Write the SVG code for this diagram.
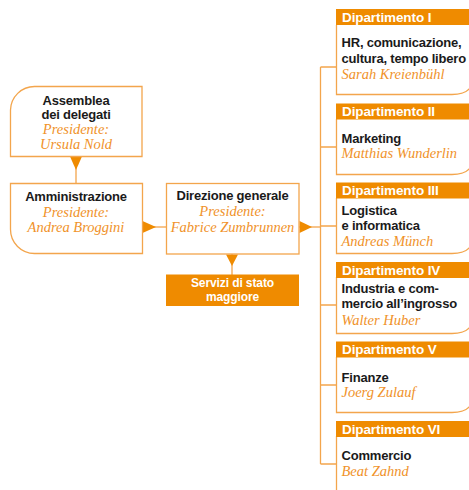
<svg xmlns="http://www.w3.org/2000/svg" width="469" height="490" viewBox="0 0 469 490">
<defs>
<style>
.box{fill:#fff;stroke:#F3A54C;stroke-width:1.3}
.ln{fill:none;stroke:#F3A54C;stroke-width:1.3}
.tri{fill:#EF8B00}
.hd{fill:#EF8B00}
.b{font-family:"Liberation Sans",Arial,sans-serif;font-weight:bold;font-size:13px;fill:#1a1a1a;letter-spacing:-0.2px}
.w{font-family:"Liberation Sans",Arial,sans-serif;font-weight:bold;font-size:13.5px;fill:#fff;letter-spacing:-0.1px}
.s{font-size:12px}
.i{font-family:"Liberation Serif","Times New Roman",serif;font-style:italic;font-size:14.5px;fill:#F0922A}
.c{text-anchor:middle}
</style>
</defs>
<g id="connectors">
<line class="ln" x1="76" y1="156" x2="76" y2="183"/>
<polygon class="tri" points="70,156.5 82,156.5 76,170"/>
<line class="ln" x1="142" y1="227" x2="166" y2="227"/>
<polygon class="tri" points="142.5,221 142.5,233 156,227"/>
<line class="ln" x1="232" y1="254" x2="232" y2="275"/>
<polygon class="tri" points="226,254.5 238,254.5 232,266"/>
<line class="ln" x1="299" y1="227" x2="320.5" y2="227"/>
<polygon class="tri" points="299.5,221 299.5,233 312,227"/>
<path class="ln" d="M320.5,67 V464 M320.5,67 H336 M320.5,147 H336 M320.5,226 H336 M320.5,305 H336 M320.5,385 H336 M320.5,464 H336"/>
</g>
<g id="assemblea">
<path class="box" d="M10.5,156.5 V110 A24,24 0 0 1 34.5,86.5 H142 V156.5 Z"/>
<text class="b c" x="76" y="105">Assemblea</text>
<text class="b c" x="76" y="119">dei delegati</text>
<text class="i c" x="76" y="134">Presidente:</text>
<text class="i c" x="76" y="149">Ursula Nold</text>
</g>
<g id="amministrazione">
<path class="box" d="M10.5,183.5 H142.5 V253.5 H34.5 A24,24 0 0 1 10.5,229.5 Z"/>
<text class="b c" x="76" y="201">Amministrazione</text>
<text class="i c" x="76" y="217">Presidente:</text>
<text class="i c" x="76" y="232">Andrea Broggini</text>
</g>
<g id="direzione">
<rect class="box" x="166.5" y="183.5" width="132.5" height="70.5"/>
<text class="b c" x="232.5" y="200">Direzione generale</text>
<text class="i c" x="232.5" y="216">Presidente:</text>
<text class="i c" x="232.5" y="232">Fabrice Zumbrunnen</text>
</g>
<g id="servizi">
<rect class="hd" x="166" y="274.5" width="133" height="31.5"/>
<text class="w s c" x="232.5" y="287">Servizi di stato</text>
<text class="w s c" x="232.5" y="301">maggiore</text>
</g>
<g id="dip1">
<path class="ln" d="M336.5,25 V94.5 H452 Q465,94.5 470,88"/>
<rect class="hd" x="336" y="9" width="133" height="16"/>
<text class="w" x="342" y="21.5">Dipartimento I</text>
<text class="b" x="341.5" y="47">HR, comunicazione,</text>
<text class="b" x="341.5" y="63">cultura, tempo libero</text>
<text class="i" x="341.5" y="79">Sarah Kreienbühl</text>
</g>
<g id="dip2">
<path class="ln" d="M336.5,119 V174.5 H452 Q465,174.5 470,168"/>
<rect class="hd" x="336" y="103.5" width="133" height="16"/>
<text class="w" x="342" y="116">Dipartimento II</text>
<text class="b" x="341.5" y="143">Marketing</text>
<text class="i" x="341.5" y="158">Matthias Wunderlin</text>
</g>
<g id="dip3">
<path class="ln" d="M336.5,198 V253.5 H452 Q465,253.5 470,247"/>
<rect class="hd" x="336" y="182.5" width="133" height="16"/>
<text class="w" x="342" y="195">Dipartimento III</text>
<text class="b" x="341.5" y="215">Logistica</text>
<text class="b" x="341.5" y="230">e informatica</text>
<text class="i" x="341.5" y="246">Andreas Münch</text>
</g>
<g id="dip4">
<path class="ln" d="M336.5,277 V333.5 H452 Q465,333.5 470,327"/>
<rect class="hd" x="336" y="262" width="133" height="16"/>
<text class="w" x="342" y="274.5">Dipartimento IV</text>
<text class="b" x="341.5" y="293">Industria e com-</text>
<text class="b" x="341.5" y="308">mercio all’ingrosso</text>
<text class="i" x="341.5" y="325">Walter Huber</text>
</g>
<g id="dip5">
<path class="ln" d="M336.5,357 V412.5 H452 Q465,412.5 470,406"/>
<rect class="hd" x="336" y="341.5" width="133" height="16"/>
<text class="w" x="342" y="354">Dipartimento V</text>
<text class="b" x="341.5" y="382">Finanze</text>
<text class="i" x="341.5" y="397">Joerg Zulauf</text>
</g>
<g id="dip6">
<path class="ln" d="M336.5,436 V490"/>
<rect class="hd" x="336" y="421" width="133" height="16"/>
<text class="w" x="342" y="433.5">Dipartimento VI</text>
<text class="b" x="341.5" y="460">Commercio</text>
<text class="i" x="341.5" y="476">Beat Zahnd</text>
</g>
</svg>
